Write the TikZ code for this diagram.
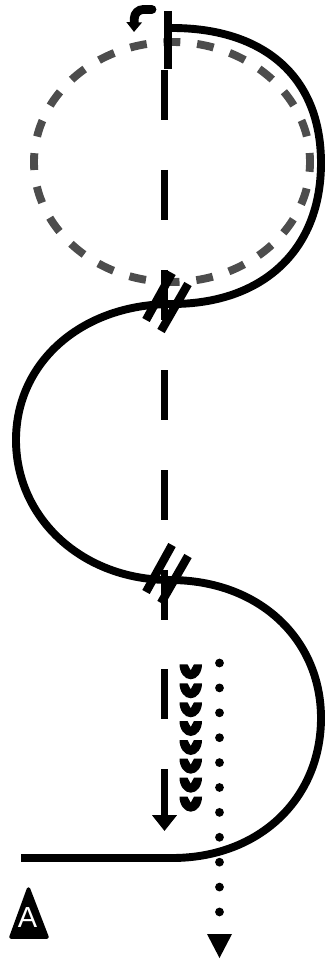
\documentclass[tikz,border=0pt]{standalone}
\usepackage{fontspec}
\setmainfont{Liberation Sans}
\usepackage{xcolor}
\usetikzlibrary{arrows.meta}
\definecolor{dark}{RGB}{77, 77, 77}

\begin{document}
\begin{tikzpicture}[x=0.02cm, y=-0.02cm,
    strand/.style={line width=4.5pt, draw=black},
    axisline/.style={line width=4.5pt, draw=black},
    guide/.style={line width=4.5pt, draw=dark, dash pattern=on 9.6pt off 9.6pt},
    tick/.style={line width=4.8pt, draw=black},
    dotline/.style={line width=5pt, line cap=round, draw=black, dash pattern=on 0pt off 14.17pt},
    cup/.style={fill=black, draw=none},
    badge/.style={fill=black, draw=black, line width=2pt, line join=round}
]
\useasboundingbox (0,0) rectangle (325,959);

% named points
\coordinate (start) at (172,28);
\coordinate (right1) at (321,163);
\coordinate (cross1) at (172,304);
\coordinate (left1) at (16,440);
\coordinate (cross2) at (170,580);
\coordinate (right2) at (321,718);
\coordinate (bend) at (172,858);
\coordinate (tail) at (21,858);
\coordinate (guidec) at (172,162);

% dashed circle
\draw[guide, dash phase=4pt] (guidec) ellipse [x radius=138, y radius=120];

% main strand
\draw[strand] (start) .. controls +(90,0) and +(0,-88) .. (right1)
    .. controls +(0,88) and +(90,0) .. (cross1)
    .. controls +(-90,0) and +(0,-78) .. (left1)
    .. controls +(0,78) and +(-88,0) .. (cross2)
    .. controls +(90,0) and +(0,-78) .. (right2)
    .. controls +(0,80) and +(88,0) .. (bend)
    -- (tail);

% axis
\foreach \y in {70,170,270,370,470,570,669} {
    \coordinate (axa) at (164.5,\y);
    \coordinate (axb) at (164.5,\y+50);
    \draw[axisline] (axa) -- (axb);
}
\coordinate (arra) at (164.5,769);
\coordinate (arrb) at (164.5,831);
\draw[axisline, -{Triangle[length=9pt, width=13.6pt]}] (arra) -- (arrb);

% top tick and small arrow
\coordinate (ticka) at (168,11);
\coordinate (tickb) at (168,69);
\draw[tick] (ticka) -- (tickb);
\coordinate (hooka) at (152,9.5);
\coordinate (hookb) at (134,32);
\draw[line width=5pt, line cap=round, rounded corners=5pt, -{Triangle[length=5.5pt, width=8.5pt]}] (hooka) -- (134.5,9.5) -- (hookb);

% slashes
\foreach \dy in {0,-272} {
    \coordinate (sla) at (172,545+\dy);
    \coordinate (slb) at (146,592+\dy);
    \coordinate (slc) at (188,556+\dy);
    \coordinate (sld) at (161,603+\dy);
    \draw[tick] (sla) -- (slb);
    \draw[tick] (slc) -- (sld);
}

% cups
\foreach \y in {664.3,683.3,702.3,721,740,758.7,777.7,796.7} {
    \fill[cup] (179.5,\y) -- (187.5,\y) -- (190.7,\y+6) -- (194,\y)
        -- (202,\y) arc[start angle=0, end angle=180, x radius=11.25, y radius=15] -- cycle;
}

% dotted arrow
\coordinate (dota) at (219.5,663);
\coordinate (dotb) at (219.5,935);
\coordinate (dotc) at (219.5,958);
\draw[dotline] (dota) -- (dotb);
\draw[draw=none, fill=black] (207,934) -- (232,934) -- (dotc) -- cycle;

% label
\fill[badge] (28.5,889) -- (11,937) -- (47,937) -- cycle;
\node[text=white, font=\fontsize{16.5}{16.5}\selectfont, inner sep=0pt] (labela) at (27.5,918) {A};
\end{tikzpicture}
\end{document}
